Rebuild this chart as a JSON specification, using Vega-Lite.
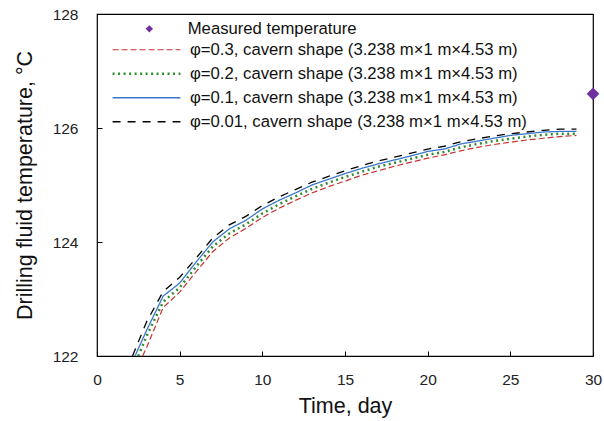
{
  "$schema": "https://vega.github.io/schema/vega-lite/v6.json",
  "width": 496,
  "height": 342,
  "autosize": "none",
  "padding": {"left": 97, "top": 14, "right": 11, "bottom": 65},
  "background": "white",
  "config": {
    "font": "Liberation Sans",
    "view": {"stroke": "black", "strokeWidth": 1.2},
    "axis": {
      "grid": false,
      "domain": false,
      "tickColor": "black",
      "tickSize": -5,
      "format": "d",
      "labelFlush": false,
      "labelFont": "Liberation Sans",
      "labelFontSize": 15.5,
      "labelColor": "#222",
      "titleFont": "Liberation Sans",
      "titleFontSize": 21.5,
      "titleFontWeight": "normal",
      "titleColor": "#111"
    }
  },
  "datasets": {
    "sim": [
      {"day": 2.76, "T": 122.0, "series": "φ=0.3, cavern shape (3.238 m×1 m×4.53 m)"},
      {"day": 3, "T": 122.15, "series": "φ=0.3, cavern shape (3.238 m×1 m×4.53 m)"},
      {"day": 4, "T": 122.85, "series": "φ=0.3, cavern shape (3.238 m×1 m×4.53 m)"},
      {"day": 5, "T": 123.12, "series": "φ=0.3, cavern shape (3.238 m×1 m×4.53 m)"},
      {"day": 6, "T": 123.48, "series": "φ=0.3, cavern shape (3.238 m×1 m×4.53 m)"},
      {"day": 7, "T": 123.83, "series": "φ=0.3, cavern shape (3.238 m×1 m×4.53 m)"},
      {"day": 8, "T": 124.07, "series": "φ=0.3, cavern shape (3.238 m×1 m×4.53 m)"},
      {"day": 9, "T": 124.24, "series": "φ=0.3, cavern shape (3.238 m×1 m×4.53 m)"},
      {"day": 10, "T": 124.43, "series": "φ=0.3, cavern shape (3.238 m×1 m×4.53 m)"},
      {"day": 11, "T": 124.59, "series": "φ=0.3, cavern shape (3.238 m×1 m×4.53 m)"},
      {"day": 12, "T": 124.73, "series": "φ=0.3, cavern shape (3.238 m×1 m×4.53 m)"},
      {"day": 13, "T": 124.86, "series": "φ=0.3, cavern shape (3.238 m×1 m×4.53 m)"},
      {"day": 14, "T": 124.97, "series": "φ=0.3, cavern shape (3.238 m×1 m×4.53 m)"},
      {"day": 15, "T": 125.07, "series": "φ=0.3, cavern shape (3.238 m×1 m×4.53 m)"},
      {"day": 16, "T": 125.17, "series": "φ=0.3, cavern shape (3.238 m×1 m×4.53 m)"},
      {"day": 17, "T": 125.25, "series": "φ=0.3, cavern shape (3.238 m×1 m×4.53 m)"},
      {"day": 18, "T": 125.33, "series": "φ=0.3, cavern shape (3.238 m×1 m×4.53 m)"},
      {"day": 19, "T": 125.40, "series": "φ=0.3, cavern shape (3.238 m×1 m×4.53 m)"},
      {"day": 20, "T": 125.47, "series": "φ=0.3, cavern shape (3.238 m×1 m×4.53 m)"},
      {"day": 21, "T": 125.53, "series": "φ=0.3, cavern shape (3.238 m×1 m×4.53 m)"},
      {"day": 22, "T": 125.60, "series": "φ=0.3, cavern shape (3.238 m×1 m×4.53 m)"},
      {"day": 23, "T": 125.66, "series": "φ=0.3, cavern shape (3.238 m×1 m×4.53 m)"},
      {"day": 24, "T": 125.71, "series": "φ=0.3, cavern shape (3.238 m×1 m×4.53 m)"},
      {"day": 25, "T": 125.75, "series": "φ=0.3, cavern shape (3.238 m×1 m×4.53 m)"},
      {"day": 26, "T": 125.79, "series": "φ=0.3, cavern shape (3.238 m×1 m×4.53 m)"},
      {"day": 27, "T": 125.82, "series": "φ=0.3, cavern shape (3.238 m×1 m×4.53 m)"},
      {"day": 28, "T": 125.85, "series": "φ=0.3, cavern shape (3.238 m×1 m×4.53 m)"},
      {"day": 29, "T": 125.87, "series": "φ=0.3, cavern shape (3.238 m×1 m×4.53 m)"},

      {"day": 2.5, "T": 122.0, "series": "φ=0.2, cavern shape (3.238 m×1 m×4.53 m)"},
      {"day": 3, "T": 122.35, "series": "φ=0.2, cavern shape (3.238 m×1 m×4.53 m)"},
      {"day": 4, "T": 122.95, "series": "φ=0.2, cavern shape (3.238 m×1 m×4.53 m)"},
      {"day": 5, "T": 123.20, "series": "φ=0.2, cavern shape (3.238 m×1 m×4.53 m)"},
      {"day": 6, "T": 123.57, "series": "φ=0.2, cavern shape (3.238 m×1 m×4.53 m)"},
      {"day": 7, "T": 123.92, "series": "φ=0.2, cavern shape (3.238 m×1 m×4.53 m)"},
      {"day": 8, "T": 124.15, "series": "φ=0.2, cavern shape (3.238 m×1 m×4.53 m)"},
      {"day": 9, "T": 124.31, "series": "φ=0.2, cavern shape (3.238 m×1 m×4.53 m)"},
      {"day": 10, "T": 124.50, "series": "φ=0.2, cavern shape (3.238 m×1 m×4.53 m)"},
      {"day": 11, "T": 124.66, "series": "φ=0.2, cavern shape (3.238 m×1 m×4.53 m)"},
      {"day": 12, "T": 124.80, "series": "φ=0.2, cavern shape (3.238 m×1 m×4.53 m)"},
      {"day": 13, "T": 124.93, "series": "φ=0.2, cavern shape (3.238 m×1 m×4.53 m)"},
      {"day": 14, "T": 125.04, "series": "φ=0.2, cavern shape (3.238 m×1 m×4.53 m)"},
      {"day": 15, "T": 125.14, "series": "φ=0.2, cavern shape (3.238 m×1 m×4.53 m)"},
      {"day": 16, "T": 125.23, "series": "φ=0.2, cavern shape (3.238 m×1 m×4.53 m)"},
      {"day": 17, "T": 125.32, "series": "φ=0.2, cavern shape (3.238 m×1 m×4.53 m)"},
      {"day": 18, "T": 125.39, "series": "φ=0.2, cavern shape (3.238 m×1 m×4.53 m)"},
      {"day": 19, "T": 125.46, "series": "φ=0.2, cavern shape (3.238 m×1 m×4.53 m)"},
      {"day": 20, "T": 125.53, "series": "φ=0.2, cavern shape (3.238 m×1 m×4.53 m)"},
      {"day": 21, "T": 125.58, "series": "φ=0.2, cavern shape (3.238 m×1 m×4.53 m)"},
      {"day": 22, "T": 125.66, "series": "φ=0.2, cavern shape (3.238 m×1 m×4.53 m)"},
      {"day": 23, "T": 125.72, "series": "φ=0.2, cavern shape (3.238 m×1 m×4.53 m)"},
      {"day": 24, "T": 125.77, "series": "φ=0.2, cavern shape (3.238 m×1 m×4.53 m)"},
      {"day": 25, "T": 125.81, "series": "φ=0.2, cavern shape (3.238 m×1 m×4.53 m)"},
      {"day": 26, "T": 125.85, "series": "φ=0.2, cavern shape (3.238 m×1 m×4.53 m)"},
      {"day": 27, "T": 125.88, "series": "φ=0.2, cavern shape (3.238 m×1 m×4.53 m)"},
      {"day": 28, "T": 125.90, "series": "φ=0.2, cavern shape (3.238 m×1 m×4.53 m)"},
      {"day": 29, "T": 125.90, "series": "φ=0.2, cavern shape (3.238 m×1 m×4.53 m)"},

      {"day": 2.3, "T": 122.0, "series": "φ=0.1, cavern shape (3.238 m×1 m×4.53 m)"},
      {"day": 3, "T": 122.45, "series": "φ=0.1, cavern shape (3.238 m×1 m×4.53 m)"},
      {"day": 4, "T": 123.05, "series": "φ=0.1, cavern shape (3.238 m×1 m×4.53 m)"},
      {"day": 5, "T": 123.28, "series": "φ=0.1, cavern shape (3.238 m×1 m×4.53 m)"},
      {"day": 6, "T": 123.65, "series": "φ=0.1, cavern shape (3.238 m×1 m×4.53 m)"},
      {"day": 7, "T": 124.00, "series": "φ=0.1, cavern shape (3.238 m×1 m×4.53 m)"},
      {"day": 8, "T": 124.23, "series": "φ=0.1, cavern shape (3.238 m×1 m×4.53 m)"},
      {"day": 9, "T": 124.38, "series": "φ=0.1, cavern shape (3.238 m×1 m×4.53 m)"},
      {"day": 10, "T": 124.58, "series": "φ=0.1, cavern shape (3.238 m×1 m×4.53 m)"},
      {"day": 11, "T": 124.73, "series": "φ=0.1, cavern shape (3.238 m×1 m×4.53 m)"},
      {"day": 12, "T": 124.86, "series": "φ=0.1, cavern shape (3.238 m×1 m×4.53 m)"},
      {"day": 13, "T": 125.00, "series": "φ=0.1, cavern shape (3.238 m×1 m×4.53 m)"},
      {"day": 14, "T": 125.10, "series": "φ=0.1, cavern shape (3.238 m×1 m×4.53 m)"},
      {"day": 15, "T": 125.20, "series": "φ=0.1, cavern shape (3.238 m×1 m×4.53 m)"},
      {"day": 16, "T": 125.29, "series": "φ=0.1, cavern shape (3.238 m×1 m×4.53 m)"},
      {"day": 17, "T": 125.37, "series": "φ=0.1, cavern shape (3.238 m×1 m×4.53 m)"},
      {"day": 18, "T": 125.44, "series": "φ=0.1, cavern shape (3.238 m×1 m×4.53 m)"},
      {"day": 19, "T": 125.51, "series": "φ=0.1, cavern shape (3.238 m×1 m×4.53 m)"},
      {"day": 20, "T": 125.59, "series": "φ=0.1, cavern shape (3.238 m×1 m×4.53 m)"},
      {"day": 21, "T": 125.63, "series": "φ=0.1, cavern shape (3.238 m×1 m×4.53 m)"},
      {"day": 22, "T": 125.72, "series": "φ=0.1, cavern shape (3.238 m×1 m×4.53 m)"},
      {"day": 23, "T": 125.77, "series": "φ=0.1, cavern shape (3.238 m×1 m×4.53 m)"},
      {"day": 24, "T": 125.82, "series": "φ=0.1, cavern shape (3.238 m×1 m×4.53 m)"},
      {"day": 25, "T": 125.87, "series": "φ=0.1, cavern shape (3.238 m×1 m×4.53 m)"},
      {"day": 26, "T": 125.90, "series": "φ=0.1, cavern shape (3.238 m×1 m×4.53 m)"},
      {"day": 27, "T": 125.93, "series": "φ=0.1, cavern shape (3.238 m×1 m×4.53 m)"},
      {"day": 28, "T": 125.94, "series": "φ=0.1, cavern shape (3.238 m×1 m×4.53 m)"},
      {"day": 29, "T": 125.94, "series": "φ=0.1, cavern shape (3.238 m×1 m×4.53 m)"},

      {"day": 2.15, "T": 122.0, "series": "φ=0.01, cavern shape (3.238 m×1 m×4.53 m)"},
      {"day": 3, "T": 122.60, "series": "φ=0.01, cavern shape (3.238 m×1 m×4.53 m)"},
      {"day": 4, "T": 123.13, "series": "φ=0.01, cavern shape (3.238 m×1 m×4.53 m)"},
      {"day": 5, "T": 123.38, "series": "φ=0.01, cavern shape (3.238 m×1 m×4.53 m)"},
      {"day": 6, "T": 123.72, "series": "φ=0.01, cavern shape (3.238 m×1 m×4.53 m)"},
      {"day": 7, "T": 124.07, "series": "φ=0.01, cavern shape (3.238 m×1 m×4.53 m)"},
      {"day": 8, "T": 124.30, "series": "φ=0.01, cavern shape (3.238 m×1 m×4.53 m)"},
      {"day": 9, "T": 124.45, "series": "φ=0.01, cavern shape (3.238 m×1 m×4.53 m)"},
      {"day": 10, "T": 124.64, "series": "φ=0.01, cavern shape (3.238 m×1 m×4.53 m)"},
      {"day": 11, "T": 124.79, "series": "φ=0.01, cavern shape (3.238 m×1 m×4.53 m)"},
      {"day": 12, "T": 124.92, "series": "φ=0.01, cavern shape (3.238 m×1 m×4.53 m)"},
      {"day": 13, "T": 125.05, "series": "φ=0.01, cavern shape (3.238 m×1 m×4.53 m)"},
      {"day": 14, "T": 125.15, "series": "φ=0.01, cavern shape (3.238 m×1 m×4.53 m)"},
      {"day": 15, "T": 125.25, "series": "φ=0.01, cavern shape (3.238 m×1 m×4.53 m)"},
      {"day": 16, "T": 125.34, "series": "φ=0.01, cavern shape (3.238 m×1 m×4.53 m)"},
      {"day": 17, "T": 125.42, "series": "φ=0.01, cavern shape (3.238 m×1 m×4.53 m)"},
      {"day": 18, "T": 125.49, "series": "φ=0.01, cavern shape (3.238 m×1 m×4.53 m)"},
      {"day": 19, "T": 125.56, "series": "φ=0.01, cavern shape (3.238 m×1 m×4.53 m)"},
      {"day": 20, "T": 125.63, "series": "φ=0.01, cavern shape (3.238 m×1 m×4.53 m)"},
      {"day": 21, "T": 125.68, "series": "φ=0.01, cavern shape (3.238 m×1 m×4.53 m)"},
      {"day": 22, "T": 125.76, "series": "φ=0.01, cavern shape (3.238 m×1 m×4.53 m)"},
      {"day": 23, "T": 125.81, "series": "φ=0.01, cavern shape (3.238 m×1 m×4.53 m)"},
      {"day": 24, "T": 125.86, "series": "φ=0.01, cavern shape (3.238 m×1 m×4.53 m)"},
      {"day": 25, "T": 125.90, "series": "φ=0.01, cavern shape (3.238 m×1 m×4.53 m)"},
      {"day": 26, "T": 125.93, "series": "φ=0.01, cavern shape (3.238 m×1 m×4.53 m)"},
      {"day": 27, "T": 125.96, "series": "φ=0.01, cavern shape (3.238 m×1 m×4.53 m)"},
      {"day": 28, "T": 125.98, "series": "φ=0.01, cavern shape (3.238 m×1 m×4.53 m)"},
      {"day": 29, "T": 125.98, "series": "φ=0.01, cavern shape (3.238 m×1 m×4.53 m)"}
    ],
    "measured": [
      {"day": 30, "T": 126.6, "label": "Measured temperature"}
    ]
  },
  "layer": [
    {
      "data": {"name": "sim"},
      "mark": {"type": "line", "clip": true},
      "encoding": {
        "x": {
          "field": "day", "type": "quantitative",
          "scale": {"domain": [0, 30], "nice": false, "zero": false},
          "axis": {"values": [0, 5, 10, 15, 20, 25, 30], "title": "Time, day", "labelPadding": 21, "titlePadding": 8}
        },
        "y": {
          "field": "T", "type": "quantitative",
          "scale": {"domain": [122, 128], "nice": false, "zero": false},
          "axis": {"values": [122, 124, 126, 128], "title": "Drilling fluid temperature, °C", "labelPadding": 24, "titlePadding": 16}
        },
        "color": {
          "field": "series", "type": "nominal",
          "scale": {
            "domain": ["φ=0.3, cavern shape (3.238 m×1 m×4.53 m)", "φ=0.2, cavern shape (3.238 m×1 m×4.53 m)", "φ=0.1, cavern shape (3.238 m×1 m×4.53 m)", "φ=0.01, cavern shape (3.238 m×1 m×4.53 m)"],
            "range": ["#C8322D", "#2E8B2E", "#3A78C9", "#000000"]
          },
          "legend": {
            "orient": "none", "legendX": 14, "legendY": 24, "title": null,
            "symbolType": "stroke", "symbolSize": 4600, "symbolStrokeWidth": 1.5,
            "clipHeight": 23.5, "rowPadding": 0,
            "labelFontSize": 16.7, "labelFont": "Liberation Sans", "labelColor": "#111", "labelLimit": 500,
            "labelOffset": 8
          }
        },
        "strokeDash": {
          "field": "series", "type": "nominal",
          "scale": {
            "domain": ["φ=0.3, cavern shape (3.238 m×1 m×4.53 m)", "φ=0.2, cavern shape (3.238 m×1 m×4.53 m)", "φ=0.1, cavern shape (3.238 m×1 m×4.53 m)", "φ=0.01, cavern shape (3.238 m×1 m×4.53 m)"],
            "range": [[6, 3], [2, 3.5], [1, 0], [8, 7]]
          }
        },
        "strokeWidth": {
          "field": "series", "type": "nominal",
          "scale": {
            "type": "ordinal",
            "domain": ["φ=0.3, cavern shape (3.238 m×1 m×4.53 m)", "φ=0.2, cavern shape (3.238 m×1 m×4.53 m)", "φ=0.1, cavern shape (3.238 m×1 m×4.53 m)", "φ=0.01, cavern shape (3.238 m×1 m×4.53 m)"],
            "range": [1.2, 2.5, 1.3, 1.3]
          },
          "legend": null
        }
      }
    },
    {
      "data": {"name": "measured"},
      "mark": {"type": "point", "filled": true, "color": "#7030A0", "size": 160, "clip": false, "opacity": 1},
      "encoding": {
        "x": {"field": "day", "type": "quantitative"},
        "y": {"field": "T", "type": "quantitative"},
        "shape": {
          "field": "label", "type": "nominal",
          "scale": {"domain": ["Measured temperature"], "range": ["diamond"]},
          "legend": {
            "orient": "none", "legendX": 44, "legendY": 6.5, "title": null,
            "symbolSize": 55, "symbolFillColor": "#7030A0", "symbolStrokeColor": "#7030A0", "symbolOpacity": 1,
            "labelFontSize": 16.7, "labelFont": "Liberation Sans", "labelColor": "#111", "labelOffset": 30, "labelLimit": 400
          }
        }
      }
    }
  ]
}
